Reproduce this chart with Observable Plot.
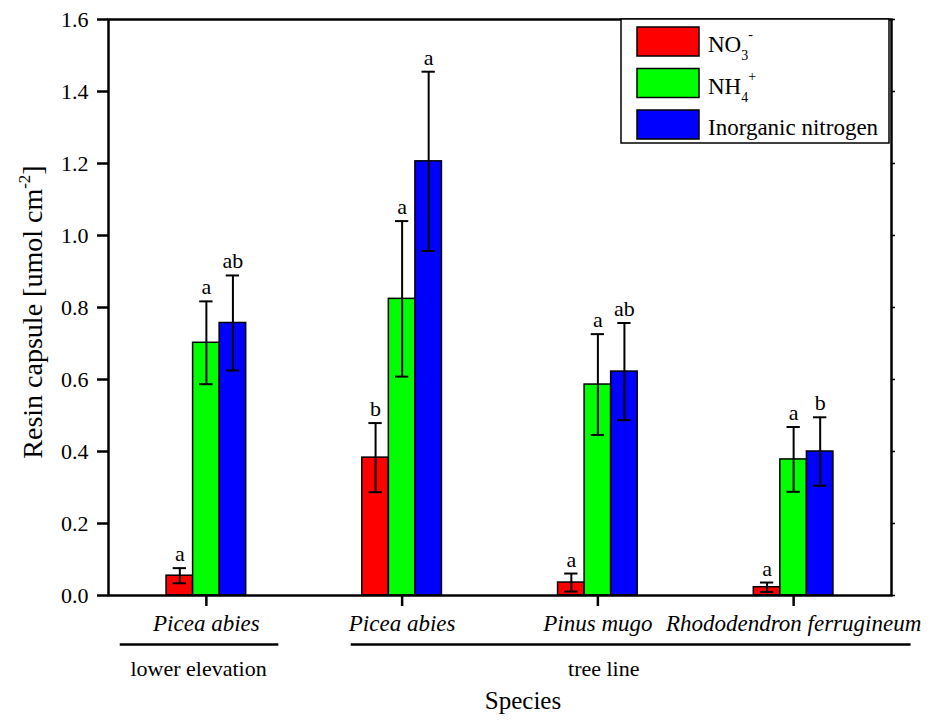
<!DOCTYPE html>
<html><head><meta charset="utf-8">
<script src="https://cdn.jsdelivr.net/npm/d3@7"></script>
<script src="https://cdn.jsdelivr.net/npm/@observablehq/plot@0.6"></script>
<style>
body{margin:0;background:#fff;}
svg{display:block}
#chart svg, #chart svg text, #chart svg tspan { font-family: 'Liberation Serif', 'Times New Roman', serif; }
</style>
</head><body><div id="chart"></div>
<script>
// ---- data ----
const species = ["Picea abies", "Picea abies", "Pinus mugo", "Rhododendron ferrugineum"];
const seriesNames = ["NO3-", "NH4+", "Inorganic nitrogen"];
const seriesColors = ["#ff0000", "#00ff00", "#0000ff"];
const no3Mean = [0.055, 0.383, 0.036, 0.023];
const no3Err = [0.021, 0.096, 0.025, 0.013];
const no3Letter = ["a", "b", "a", "a"];
const nh4Mean = [0.702, 0.824, 0.586, 0.378];
const nh4Err = [0.115, 0.216, 0.140, 0.090];
const nh4Letter = ["a", "a", "a", "a"];
const inorgMean = [0.757, 1.206, 0.622, 0.400];
const inorgErr = [0.132, 0.249, 0.135, 0.095];
const inorgLetter = ["ab", "a", "ab", "b"];
const yTicks = [0, 0.2, 0.4, 0.6, 0.8, 1.0, 1.2, 1.4, 1.6];
const groupNames = ["lower elevation", "tree line"];
const groupSpanStart = [0.56, 1.74];
const groupSpanEnd = [1.37, 4.6];
const groupLabelAt = [0.96, 3.03];

// ---- build table ----
const means = [no3Mean, nh4Mean, inorgMean];
const errs = [no3Err, nh4Err, inorgErr];
const letters = [no3Letter, nh4Letter, inorgLetter];
const barW = 0.1356;
const capHalf = 0.034;
const rows = [];
seriesNames.forEach((s, k) => species.forEach((sp, i) => {
  const cx = i + 1 + (k - 1) * barW;
  rows.push({series: s, k, i, cx, x1: cx - barW / 2, x2: cx + barW / 2,
    mean: means[k][i], err: errs[k][i], letter: letters[k][i]});
}));
const groups = groupNames.map((g, j) => ({name: g, x1: groupSpanStart[j], x2: groupSpanEnd[j], at: groupLabelAt[j]}));

const plot = Plot.plot({
  width: 935, height: 720,
  marginLeft: 108, marginRight: 44, marginTop: 19, marginBottom: 125,
  style: {fontSize: "21px", color: "black", background: "white", overflow: "visible"},
  x: {type: "linear", domain: [0.5, 4.5]},
  y: {domain: [0, 1.6]},
  color: {domain: seriesNames, range: seriesColors},
  marks: [
    Plot.rectY(rows, {x1: "x1", x2: "x2", y1: 0, y2: "mean", fill: "series", stroke: "black", strokeWidth: 1.5}),
    Plot.ruleX(rows, {x: "cx", y1: d => d.mean - d.err, y2: d => d.mean + d.err, stroke: "black", strokeWidth: 2}),
    Plot.ruleY(rows, {y: d => d.mean + d.err, x1: d => d.cx - capHalf, x2: d => d.cx + capHalf, stroke: "black", strokeWidth: 2}),
    Plot.ruleY(rows, {y: d => d.mean - d.err, x1: d => d.cx - capHalf, x2: d => d.cx + capHalf, stroke: "black", strokeWidth: 2}),
    Plot.text(rows, {x: "cx", y: d => d.mean + d.err, text: "letter", dy: -7, lineAnchor: "bottom", fontSize: 22, fill: "black"}),
    Plot.frame({stroke: "black", strokeWidth: 2.5}),
    Plot.axisY({ticks: yTicks, tickFormat: d3.format(".1f"), tickSize: 11, tickPadding: 9, strokeWidth: 2.5, label: null, fontSize: 22}),
    Plot.axisY({anchor: "right", ticks: yTicks, tickSize: 3, tickFormat: () => "", label: null, strokeWidth: 1.5}),
    Plot.axisX({ticks: [1, 2, 3, 4], tickFormat: i => species[i - 1], tickSize: 11, tickPadding: 8, strokeWidth: 2.5, fontStyle: "italic", fontSize: 23, label: null}),
    Plot.ruleY(groups, {y: () => 0, x1: "x1", x2: "x2", dy: 49, stroke: "black", strokeWidth: 2.5}),
    Plot.text(groups, {x: "at", y: () => 0, text: "name", dy: 73, fontSize: 22, fill: "black"}),
    Plot.text(["Species"], {frameAnchor: "bottom", text: d => d, dy: 113, dx: 23, fontSize: 25, fill: "black"})
  ]
});
document.getElementById("chart").append(plot);

const svg = d3.select(plot);
// y axis title with superscript
const yl = svg.append("text")
  .attr("transform", "translate(42,312) rotate(-90)")
  .attr("text-anchor", "middle")
  .attr("font-size", 28).attr("fill", "black");
yl.append("tspan").text("Resin capsule [umol cm");
yl.append("tspan").attr("dy", -12).attr("font-size", 17).text("-2");
yl.append("tspan").attr("dy", 12).text("]");

// legend
const color = plot.scale("color");
const lg = svg.append("g").attr("transform", "translate(621,19)");
lg.append("rect").attr("width", 268).attr("height", 124).attr("fill", "white").attr("stroke", "black").attr("stroke-width", 1.5);
const labelParts = [["NO", "3", "-"], ["NH", "4", "+"], ["Inorganic nitrogen", null, null]];
seriesNames.forEach((s, k) => {
  const y0 = 8 + k * 41.5;
  lg.append("rect").attr("x", 16).attr("y", y0).attr("width", 62).attr("height", 29)
    .attr("fill", color.apply(s)).attr("stroke", "black").attr("stroke-width", 1.5);
  const t = lg.append("text").attr("x", 87).attr("y", y0 + 25).attr("text-anchor", "start")
    .attr("font-size", 23).attr("fill", "black");
  const [base, sub, sup] = labelParts[k];
  t.append("tspan").text(base);
  if (sub) {
    t.append("tspan").attr("dy", 8).attr("font-size", 14).text(sub);
    t.append("tspan").attr("dy", -21).attr("font-size", 14).text(sup);
  }
});
</script>
</body></html>
